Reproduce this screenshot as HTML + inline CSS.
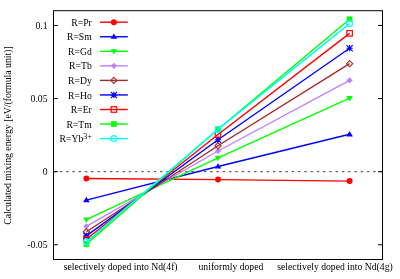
<!DOCTYPE html>
<html><head><meta charset="utf-8"><title>Calculated mixing energy</title>
<style>
html,body{margin:0;padding:0;background:#fff;}
body{width:400px;height:279px;overflow:hidden;}
svg{display:block;will-change:transform;opacity:0.999;}
text{font-family:"Liberation Serif",serif;font-size:9.7px;fill:#000;}
</style></head><body>
<svg width="400" height="279" viewBox="0 0 400 279">
<rect width="400" height="279" fill="#fff"/>
<path d="M53.5,171.7 L382.5,171.7" stroke="#000" stroke-width="0.75" stroke-dasharray="2.5,3.768" fill="none"/>
<polyline points="86.4,178.45 218.0,179.6 349.6,181.1" fill="none" stroke="#ff0000" stroke-width="1.4" stroke-linejoin="round"/>
<circle cx="86.4" cy="178.45" r="3.0" fill="#ff0000"/>
<circle cx="218.0" cy="179.6" r="3.0" fill="#ff0000"/>
<circle cx="349.6" cy="181.1" r="3.0" fill="#ff0000"/>
<polyline points="86.4,200.15 218.0,166.45 349.6,134.3" fill="none" stroke="#0000ff" stroke-width="1.4" stroke-linejoin="round"/>
<path d="M86.4,196.85 L89.7,202.25 L83.10000000000001,202.25Z" fill="#0000ff"/>
<path d="M218.0,163.14999999999998 L221.3,168.54999999999998 L214.7,168.54999999999998Z" fill="#0000ff"/>
<path d="M349.6,131.0 L352.90000000000003,136.4 L346.3,136.4Z" fill="#0000ff"/>
<polyline points="86.4,219.65 218.0,157.95 349.6,98.2" fill="none" stroke="#00ff00" stroke-width="1.4" stroke-linejoin="round"/>
<path d="M86.4,222.95000000000002 L89.7,217.55 L83.10000000000001,217.55Z" fill="#00ff00"/>
<path d="M218.0,161.25 L221.3,155.85 L214.7,155.85Z" fill="#00ff00"/>
<path d="M349.6,101.5 L352.90000000000003,96.10000000000001 L346.3,96.10000000000001Z" fill="#00ff00"/>
<polyline points="86.4,226.3 218.0,151.0 349.6,80.35" fill="none" stroke="#c080ff" stroke-width="1.4" stroke-linejoin="round"/>
<path d="M86.4,223.20000000000002 L89.5,226.3 L86.4,229.4 L83.30000000000001,226.3Z" fill="#c080ff"/>
<path d="M218.0,147.9 L221.1,151.0 L218.0,154.1 L214.9,151.0Z" fill="#c080ff"/>
<path d="M349.6,77.25 L352.70000000000005,80.35 L349.6,83.44999999999999 L346.5,80.35Z" fill="#c080ff"/>
<polyline points="86.4,231.75 218.0,145.75 349.6,63.7" fill="none" stroke="#a52a2a" stroke-width="1.4" stroke-linejoin="round"/>
<path d="M86.4,228.65 L89.5,231.75 L86.4,234.85 L83.30000000000001,231.75Z" fill="none" stroke="#a52a2a" stroke-width="1.1"/>
<path d="M218.0,142.65 L221.1,145.75 L218.0,148.85 L214.9,145.75Z" fill="none" stroke="#a52a2a" stroke-width="1.1"/>
<path d="M349.6,60.6 L352.70000000000005,63.7 L349.6,66.8 L346.5,63.7Z" fill="none" stroke="#a52a2a" stroke-width="1.1"/>
<polyline points="86.4,235.9 218.0,139.75 349.6,48.2" fill="none" stroke="#0000ff" stroke-width="1.4" stroke-linejoin="round"/>
<path d="M83.30000000000001,232.8L89.5,239.0M83.30000000000001,239.0L89.5,232.8M86.4,232.8L86.4,239.0M83.30000000000001,235.9L89.5,235.9" fill="none" stroke="#0000ff" stroke-width="1.15"/>
<path d="M214.9,136.65L221.1,142.85M214.9,142.85L221.1,136.65M218.0,136.65L218.0,142.85M214.9,139.75L221.1,139.75" fill="none" stroke="#0000ff" stroke-width="1.15"/>
<path d="M346.5,45.1L352.70000000000005,51.300000000000004M346.5,51.300000000000004L352.70000000000005,45.1M349.6,45.1L349.6,51.300000000000004M346.5,48.2L352.70000000000005,48.2" fill="none" stroke="#0000ff" stroke-width="1.15"/>
<polyline points="86.4,239.3 218.0,134.45 349.6,33.35" fill="none" stroke="#ff0000" stroke-width="1.4" stroke-linejoin="round"/>
<rect x="83.65" y="236.55" width="5.5" height="5.5" fill="none" stroke="#ff0000" stroke-width="1.2"/>
<rect x="215.25" y="131.7" width="5.5" height="5.5" fill="none" stroke="#ff0000" stroke-width="1.2"/>
<rect x="346.85" y="30.6" width="5.5" height="5.5" fill="none" stroke="#ff0000" stroke-width="1.2"/>
<polyline points="86.4,244.1 218.0,129.2 349.6,19.2" fill="none" stroke="#00ff00" stroke-width="1.4" stroke-linejoin="round"/>
<rect x="83.60000000000001" y="241.29999999999998" width="5.6" height="5.6" fill="#00ff00"/>
<rect x="215.2" y="126.39999999999999" width="5.6" height="5.6" fill="#00ff00"/>
<rect x="346.8" y="16.4" width="5.6" height="5.6" fill="#00ff00"/>
<polyline points="86.4,241.85 218.0,129.4 349.6,23.6" fill="none" stroke="#00ffff" stroke-width="1.4" stroke-linejoin="round"/>
<circle cx="86.4" cy="241.85" r="2.9" fill="none" stroke="#00ffff" stroke-width="1.2"/>
<circle cx="218.0" cy="129.4" r="2.9" fill="none" stroke="#00ffff" stroke-width="1.2"/>
<circle cx="349.6" cy="23.6" r="2.9" fill="none" stroke="#00ffff" stroke-width="1.2"/>
<rect x="53.5" y="10.7" width="329.0" height="248.8" fill="none" stroke="#000" stroke-width="1.0"/>
<path d="M53.5,25.45h4.4 M382.5,25.45h-4.4" stroke="#000" stroke-width="1"/>
<text x="47.5" y="28.55" text-anchor="end">0.1</text>
<path d="M53.5,98.55h4.4 M382.5,98.55h-4.4" stroke="#000" stroke-width="1"/>
<text x="47.5" y="101.64999999999999" text-anchor="end">0.05</text>
<path d="M53.5,171.65h4.4 M382.5,171.65h-4.4" stroke="#000" stroke-width="1"/>
<text x="47.5" y="174.75" text-anchor="end">0</text>
<path d="M53.5,244.75h4.4 M382.5,244.75h-4.4" stroke="#000" stroke-width="1"/>
<text x="47.5" y="247.85" text-anchor="end">-0.05</text>
<text x="91.8" y="25.8" text-anchor="end">R=Pr</text>
<path d="M100,22.2H127.8" stroke="#ff0000" stroke-width="1.4"/>
<circle cx="113.9" cy="22.2" r="3.0" fill="#ff0000"/>
<text x="91.8" y="40.35" text-anchor="end">R=Sm</text>
<path d="M100,36.75H127.8" stroke="#0000ff" stroke-width="1.4"/>
<path d="M113.9,33.45 L117.2,38.85 L110.60000000000001,38.85Z" fill="#0000ff"/>
<text x="91.8" y="54.9" text-anchor="end">R=Gd</text>
<path d="M100,51.3H127.8" stroke="#00ff00" stroke-width="1.4"/>
<path d="M113.9,54.599999999999994 L117.2,49.199999999999996 L110.60000000000001,49.199999999999996Z" fill="#00ff00"/>
<text x="91.8" y="69.45" text-anchor="end">R=Tb</text>
<path d="M100,65.85000000000001H127.8" stroke="#c080ff" stroke-width="1.4"/>
<path d="M113.9,62.75000000000001 L117.0,65.85000000000001 L113.9,68.95 L110.80000000000001,65.85000000000001Z" fill="#c080ff"/>
<text x="91.8" y="84.0" text-anchor="end">R=Dy</text>
<path d="M100,80.4H127.8" stroke="#a52a2a" stroke-width="1.4"/>
<path d="M113.9,77.30000000000001 L117.0,80.4 L113.9,83.5 L110.80000000000001,80.4Z" fill="none" stroke="#a52a2a" stroke-width="1.1"/>
<text x="91.8" y="98.55" text-anchor="end">R=Ho</text>
<path d="M100,94.95H127.8" stroke="#0000ff" stroke-width="1.4"/>
<path d="M110.80000000000001,91.85000000000001L117.0,98.05M110.80000000000001,98.05L117.0,91.85000000000001M113.9,91.85000000000001L113.9,98.05M110.80000000000001,94.95L117.0,94.95" fill="none" stroke="#0000ff" stroke-width="1.15"/>
<text x="91.8" y="113.10000000000001" text-anchor="end">R=Er</text>
<path d="M100,109.50000000000001H127.8" stroke="#ff0000" stroke-width="1.4"/>
<rect x="111.15" y="106.75000000000001" width="5.5" height="5.5" fill="none" stroke="#ff0000" stroke-width="1.2"/>
<text x="91.8" y="127.65" text-anchor="end">R=Tm</text>
<path d="M100,124.05000000000001H127.8" stroke="#00ff00" stroke-width="1.4"/>
<rect x="111.10000000000001" y="121.25000000000001" width="5.6" height="5.6" fill="#00ff00"/>
<text x="91.8" y="142.2" text-anchor="end">R=Yb<tspan dy="-3.5" font-size="8px">3+</tspan></text>
<path d="M100,138.6H127.8" stroke="#00ffff" stroke-width="1.4"/>
<circle cx="113.9" cy="138.6" r="2.9" fill="none" stroke="#00ffff" stroke-width="1.2"/>
<text x="63.8" y="270.0">selectively doped into Nd(4f)</text>
<text x="198.5" y="270.0">uniformly doped</text>
<text x="277.3" y="270.0">selectively doped into Nd(4g)</text>
<text transform="translate(11.3,135.6) rotate(-90)" text-anchor="middle" style="font-size:9.75px">Calculated mixing energy [eV/(formula unit)]</text>
</svg></body></html>
